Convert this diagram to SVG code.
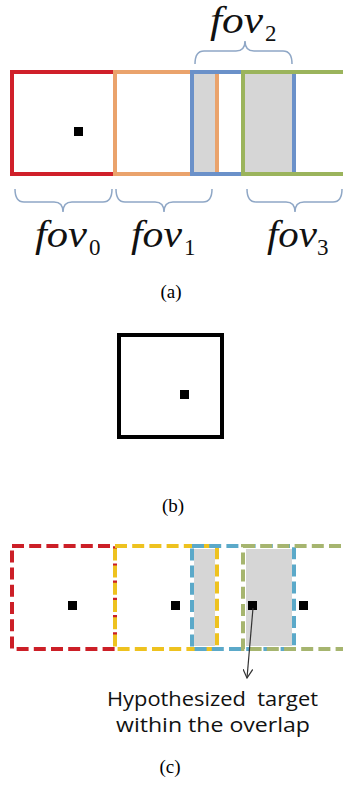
<svg xmlns="http://www.w3.org/2000/svg" width="343" height="788" viewBox="0 0 343 788">
<style>
.box{fill:none;stroke-width:4}
.dbox{fill:none;stroke-width:4;stroke-dasharray:12 5.2}
.gray{fill:#d6d6d6}
.dot{fill:#000}
.brace{fill:none;stroke:#8fa7c6;stroke-width:1.5}
.fov{font-family:"Liberation Serif",serif;font-style:italic;font-size:37px;fill:#111}
.sub{font-family:"Liberation Serif",serif;font-size:23px;fill:#111}
.cap{font-family:"Liberation Serif",serif;font-size:19px;fill:#000}
.note{font-family:"Open Sans","Liberation Sans",sans-serif;font-size:20px;fill:#111}
</style>
<defs>
<marker id="arr" viewBox="0 0 10 10" refX="9" refY="5" markerWidth="10" markerHeight="10" markerUnits="userSpaceOnUse" orient="auto">
<path d="M0,0 L9,5 L0,10" fill="none" stroke="#333" stroke-width="1.2"/>
</marker>
</defs>
<rect width="343" height="788" fill="#fff"/>

<g id="panel-a">
<rect class="gray" x="194" y="74" width="21" height="98"/>
<rect class="gray" x="245" y="74" width="47" height="98"/>
<g id="fov0-box"><rect class="box" x="12" y="72" width="103" height="102" stroke="#d0202a"/><rect class="dot" x="74" y="127" width="9" height="9"/></g>
<g id="fov1-box"><rect class="box" x="115" y="72" width="102" height="102" stroke="#eaa36c"/></g>
<g id="fov2-box"><rect class="box" x="192" y="72" width="102" height="102" stroke="#6b91c9"/></g>
<g id="fov3-box"><rect class="box" x="243" y="72" width="104" height="102" stroke="#9bb45c"/></g>
<g id="braces">
<path class="brace" d="M195,64 Q195,51 204,51 L236,51 Q245,51 245,41 Q245,51 254,51 L283,51 Q292,51 292,64"/>
<path class="brace" d="M15,189 Q15,202 24,202 L54,202 Q63,202 63,212 Q63,202 72,202 L103,202 Q112,202 112,189"/>
<path class="brace" d="M116,189 Q116,202 125,202 L155,202 Q164,202 164,212 Q164,202 173,202 L203,202 Q212,202 212,189"/>
<path class="brace" d="M247,189 Q247,202 256,202 L286,202 Q295,202 295,212 Q295,202 304,202 L333,202 Q342,202 342,189"/>
</g>
<g id="labels-a">
<text class="fov" x="210" y="33" textLength="53" lengthAdjust="spacingAndGlyphs">fov</text><text class="sub" x="265" y="41">2</text>
<text class="fov" x="35" y="247" textLength="52" lengthAdjust="spacingAndGlyphs">fov</text><text class="sub" x="89" y="255">0</text>
<text class="fov" x="131" y="247" textLength="51" lengthAdjust="spacingAndGlyphs">fov</text><text class="sub" x="184" y="255">1</text>
<text class="fov" x="267" y="247" textLength="50" lengthAdjust="spacingAndGlyphs">fov</text><text class="sub" x="317" y="255">3</text>
<text class="cap" x="171" y="298" text-anchor="middle">(a)</text>
</g>
</g>

<g id="panel-b">
<g id="target-box"><rect class="box" x="119" y="335" width="103" height="102" stroke="#000"/><rect class="dot" x="180" y="390" width="9" height="9"/></g>
<text class="cap" x="173" y="512" text-anchor="middle">(b)</text>
</g>

<g id="panel-c">
<rect class="gray" x="194" y="549" width="21" height="97"/>
<rect class="gray" x="246" y="549" width="46" height="97"/>
<g id="c-box0"><rect class="dbox" x="12" y="546" width="103" height="103" stroke="#cc1f27"/><rect class="dot" x="68" y="601" width="9" height="9"/></g>
<g id="c-box1"><rect class="dbox" x="115" y="546" width="102" height="103" stroke="#eec21f"/><rect class="dot" x="171" y="601" width="9" height="9"/></g>
<g id="c-box2"><rect class="dbox" x="192" y="546" width="102" height="103" stroke="#5ba9c9"/><rect class="dot" x="248" y="601" width="9" height="9"/></g>
<g id="c-box3"><rect class="dbox" x="243" y="546" width="104" height="103" stroke="#a6b56f"/><rect class="dot" x="299" y="601" width="9" height="9"/></g>
<g id="connectors"><line x1="253" y1="608" x2="247" y2="678" stroke="#333" stroke-width="1.2" marker-end="url(#arr)"/></g>
<g id="note">
<text class="note" x="107" y="706" textLength="211" lengthAdjust="spacingAndGlyphs" xml:space="preserve">Hypothesized  target</text>
<text class="note" x="116" y="732" textLength="194" lengthAdjust="spacingAndGlyphs">within the overlap</text>
</g>
<text class="cap" x="170" y="773" text-anchor="middle">(c)</text>
</g>
</svg>
